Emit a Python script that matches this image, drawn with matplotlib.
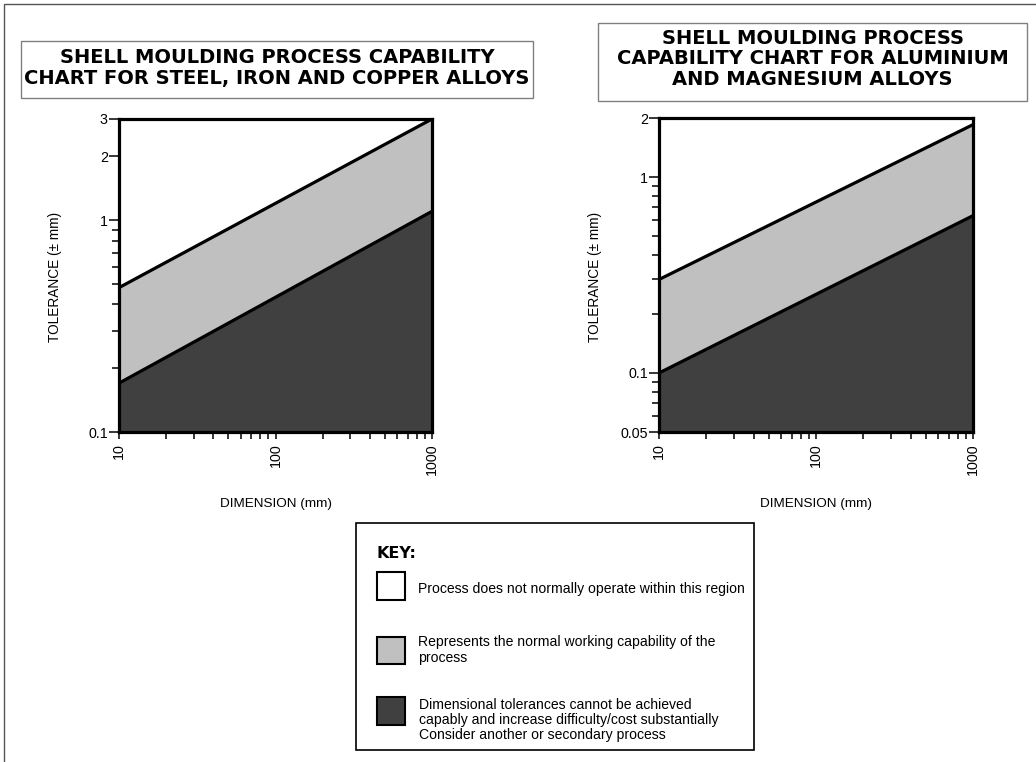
import matplotlib
matplotlib.use("Agg")
import matplotlib.pyplot as plt
from matplotlib.patches import Rectangle
from matplotlib.ticker import FixedLocator, FixedFormatter, NullFormatter

# ---- data ----
dims = [10, 1000]
left_upper = [0.48, 3.0]
left_lower = [0.17, 1.1]
left_ylim = [0.1, 3]
left_yticks = [0.1, 1, 2, 3]
left_yticklabels = ["0.1", "1", "2", "3"]
left_yminor = [0.2, 0.3, 0.4, 0.5, 0.6, 0.7, 0.8, 0.9]

right_upper = [0.30, 1.85]
right_lower = [0.10, 0.635]
right_ylim = [0.05, 2]
right_yticks = [0.05, 0.1, 1, 2]
right_yticklabels = ["0.05", "0.1", "1", "2"]
right_yminor = [0.06, 0.07, 0.08, 0.09, 0.2, 0.3, 0.4, 0.5, 0.6, 0.7, 0.8, 0.9]

xticks = [10, 100, 1000]
xticklabels = ["10", "100", "1000"]
xminor = [20, 30, 40, 50, 60, 70, 80, 90, 200, 300, 400, 500, 600, 700, 800, 900]

title_left = "SHELL MOULDING PROCESS CAPABILITY\nCHART FOR STEEL, IRON AND COPPER ALLOYS"
title_right = "SHELL MOULDING PROCESS\nCAPABILITY CHART FOR ALUMINIUM\nAND MAGNESIUM ALLOYS"
xlabel = "DIMENSION (mm)"
ylabel = "TOLERANCE (\u00b1 mm)"
key_title = "KEY:"
key_texts = ["Process does not normally operate within this region",
             "Represents the normal working capability of the\nprocess",
             "Dimensional tolerances cannot be achieved\ncapably and increase difficulty/cost substantially\nConsider another or secondary process"]

LIGHT = "#c0c0c0"
DARK = "#404040"
W, H = 1036, 762

plt.rcParams['font.family'] = ['Liberation Sans', 'DejaVu Sans']
fig = plt.figure(figsize=(W / 100, H / 100), dpi=100)

def fx(px):
    return px / W

def fy(py):
    return 1 - py / H

# outer border (cropped box)
fig.patches.append(Rectangle((fx(4), fy(H + 10)), fx(W + 20), fy(4) - fy(H + 10),
                             transform=fig.transFigure, fill=False,
                             edgecolor="#555555", linewidth=1.0))

def make_axes(x0, x1, y0, y1, upper, lower, ylim, yt, ytl, ymin):
    ax = fig.add_axes([fx(x0), fy(y1), fx(x1 - x0), fy(y0) - fy(y1)])
    ax.set_xscale("log")
    ax.set_yscale("log")
    ax.set_xlim(dims[0], dims[-1])
    ax.set_ylim(*ylim)
    ax.fill_between(dims, [ylim[0]] * len(dims), lower, color=DARK, linewidth=0)
    ax.fill_between(dims, lower, upper, color=LIGHT, linewidth=0)
    ax.plot(dims, upper, color="black", lw=2.3, solid_capstyle="butt")
    ax.plot(dims, lower, color="black", lw=2.3, solid_capstyle="butt")
    for s in ax.spines.values():
        s.set_linewidth(2.3)
    ax.xaxis.set_major_locator(FixedLocator(xticks))
    ax.xaxis.set_major_formatter(FixedFormatter(xticklabels))
    ax.xaxis.set_minor_locator(FixedLocator(xminor))
    ax.xaxis.set_minor_formatter(NullFormatter())
    ax.yaxis.set_major_locator(FixedLocator(yt))
    ax.yaxis.set_major_formatter(FixedFormatter(ytl))
    ax.yaxis.set_minor_locator(FixedLocator(ymin))
    ax.yaxis.set_minor_formatter(NullFormatter())
    ax.tick_params(axis="x", which="both", direction="out", length=5, width=1.1,
                   labelsize=10.3, labelrotation=90, pad=3)
    ax.tick_params(axis="y", which="major", direction="out", length=7, width=1.1,
                   labelsize=10.3, pad=1)
    ax.tick_params(axis="y", which="minor", direction="out", length=5, width=1.1)
    ax.set_xlabel(xlabel, fontsize=9.7, labelpad=17)
    return ax

axL = make_axes(119, 432, 119, 432, left_upper, left_lower, left_ylim,
                left_yticks, left_yticklabels, left_yminor)
axR = make_axes(659, 973, 118, 432, right_upper, right_lower, right_ylim,
                right_yticks, right_yticklabels, right_yminor)

fig.text(fx(55), fy(277), ylabel, rotation=90, ha="center", va="center", fontsize=9.8)
fig.text(fx(595), fy(277), ylabel, rotation=90, ha="center", va="center", fontsize=9.8)

# title boxes
def title_box(x0, x1, y0, y1, text, yc):
    fig.patches.append(Rectangle((fx(x0), fy(y1)), fx(x1 - x0), fy(y0) - fy(y1),
                                 transform=fig.transFigure, facecolor="white",
                                 edgecolor="#808080", linewidth=1.0))
    fig.text(fx((x0 + x1) / 2), fy(yc), text, ha="center", va="center",
             fontsize=14, fontweight="bold", family="DejaVu Sans",
             linespacing=1.12, multialignment="center")

title_box(21, 533, 41, 98, title_left, 68)
title_box(598, 1027, 23, 101, title_right, 59)

# key box
fig.patches.append(Rectangle((fx(356), fy(750)), fx(754 - 356), fy(523) - fy(750),
                             transform=fig.transFigure, facecolor="white",
                             edgecolor="black", linewidth=1.2))
fig.text(fx(376), fy(553), key_title, ha="left", va="center", fontsize=11.5,
         fontweight="bold", family="DejaVu Sans")
swatches = [(377, 405, 572, 600, "white"), (377, 405, 637, 664, LIGHT),
            (377, 405, 697, 725, DARK)]
text_pos = [(418, 589), (418, 650), (419, 720)]
for (x0, x1, y0, y1, c), (tx, ty), t in zip(swatches, text_pos, key_texts):
    fig.patches.append(Rectangle((fx(x0), fy(y1)), fx(x1 - x0), fy(y0) - fy(y1),
                                 transform=fig.transFigure, facecolor=c,
                                 edgecolor="black", linewidth=1.5))
    fig.text(fx(tx), fy(ty), t, ha="left", va="center", fontsize=10.1, linespacing=1.1)

fig.savefig("out.png", dpi=100)
